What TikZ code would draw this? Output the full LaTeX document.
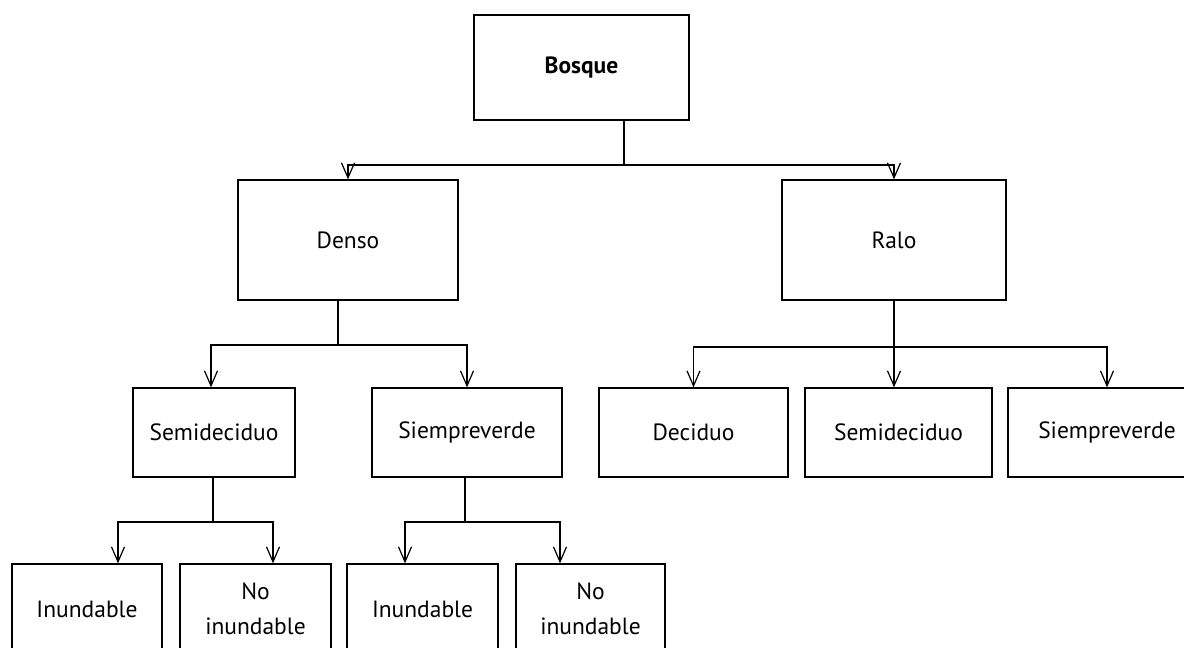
\documentclass[tikz,border=0pt]{standalone}
\usepackage{fontspec}
\setmainfont{PT Sans}
\usetikzlibrary{arrows.meta}
\begin{document}
\begin{tikzpicture}
            [x=1pt, y=-1pt, line width=1.3pt,
             box node/.style={draw, rectangle, align=center, inner sep=0pt,
               font=\fontsize{23.5}{35}\selectfont, minimum height=89pt},
             arr/.style={-{Straight Barb[length=15pt, width=13pt, line width=1.2pt]}}]
            \useasboundingbox (0,0) rectangle (1184,648);
            \clip (0,0) rectangle (1184,648);

            \node[box node, minimum width=215pt, minimum height=105pt, font=\fontsize{23.5}{35}\selectfont\bfseries] (bosque) at (581.5,67.5) {Bosque};
            \node[box node, minimum width=220pt, minimum height=120pt] (denso) at (348,240) {Denso};
            \node[box node, minimum width=224pt, minimum height=120pt] (ralo) at (894,240) {Ralo};

            \node[box node, minimum width=162pt] (semiL) at (214,432.5) {Semideciduo};
            \node[box node, minimum width=190pt] (siempL) at (467,432.5) {Siempreverde};
            \node[box node, minimum width=189pt] (decid) at (693.5,432.5) {Deciduo};
            \node[box node, minimum width=187pt] (semiR) at (898.5,432.5) {Semideciduo};
            \node[box node, minimum width=198pt] (siempR) at (1107,432.5) {Siempreverde};

            \node[box node, minimum width=150pt, minimum height=90pt] (inA) at (87,609) {Inundable};
            \node[box node, minimum width=151pt, minimum height=90pt] (noA) at (255.5,609) {No\\inundable};
            \node[box node, minimum width=151pt, minimum height=90pt] (inB) at (422.5,609) {Inundable};
            \node[box node, minimum width=149pt, minimum height=90pt] (noB) at (590.5,609) {No\\inundable};

            \coordinate (busA) at (624,165);
            \coordinate (busB) at (338,345);
            \coordinate (busC) at (894,347);
            \coordinate (busD) at (213,522);
            \coordinate (busE) at (465,522);

            \draw (bosque.south -| busA) -- (busA);
            \draw[arr] (busA) -| (denso.north);
            \draw[arr] (busA) -| (ralo.north);

            \draw (denso.south -| busB) -- (busB);
            \draw[arr] (busB) -| ([xshift=-3pt]semiL.north);
            \draw[arr] (busB) -| (siempL.north);

            \draw[arr] (ralo.south) -- (ralo.south |- semiR.north);
            \draw[arr] (busC) -| (decid.north);
            \draw[arr] (busC) -| (siempR.north);

            \draw (semiL.south -| busD) -- (busD);
            \draw[arr] (busD) -| ([xshift=31pt]inA.north);
            \draw[arr] (busD) -| ([xshift=17.5pt]noA.north);

            \draw (siempL.south -| busE) -- (busE);
            \draw[arr] (busE) -| ([xshift=-17.5pt]inB.north);
            \draw[arr] (busE) -| ([xshift=-30.5pt]noB.north);
\end{tikzpicture}
\end{document}
